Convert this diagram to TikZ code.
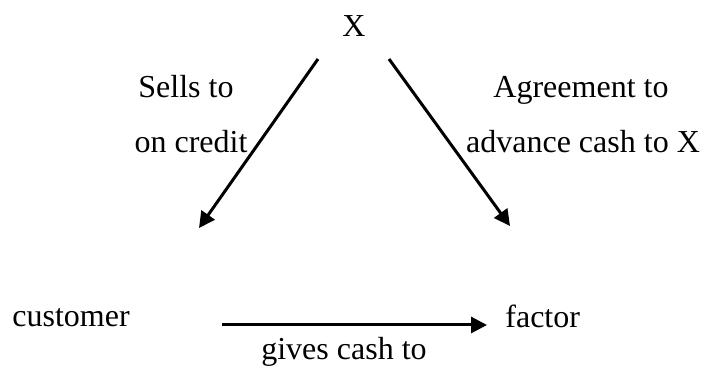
\documentclass[tikz,border=0pt]{standalone}
\usepackage{fontspec}
\setmainfont{Liberation Serif}
\usetikzlibrary{arrows.meta}
\begin{document}
\begin{tikzpicture}[x=0.5pt,y=-0.5pt,
  lbl/.style={inner sep=0pt,anchor=base,font=\fontsize{16}{19}\selectfont},
  flow/.style={line width=1.5pt,-{Triangle[length=8pt,width=8pt]}}]
\useasboundingbox (0,0) rectangle (702,367);
% parties
\node[lbl] (x) at (354,37) {X};
\node[lbl,anchor=base west] (customer) at (12,327) {customer};
\node[lbl,anchor=base west] (factor) at (505,328) {factor};
% arrow end points
\coordinate (a1) at (318,59);
\coordinate (a2) at (199,228);
\coordinate (b1) at (389,59);
\coordinate (b2) at (510,226);
\coordinate (c1) at (222,325);
\coordinate (c2) at (487,325);
\draw[flow] (a1) -- (a2);
\draw[flow] (b1) -- (b2);
\draw[flow] (c1) -- (c2);
% arrow labels
\node[lbl] (sells) at (186,98) {Sells to};
\node[lbl] (credit) at (191,153) {on credit};
\node[lbl] (agree) at (581,98) {Agreement to};
\node[lbl] (advance) at (583,153) {advance cash to X};
\node[lbl] (gives) at (344,360) {gives cash to};
\end{tikzpicture}
\end{document}
